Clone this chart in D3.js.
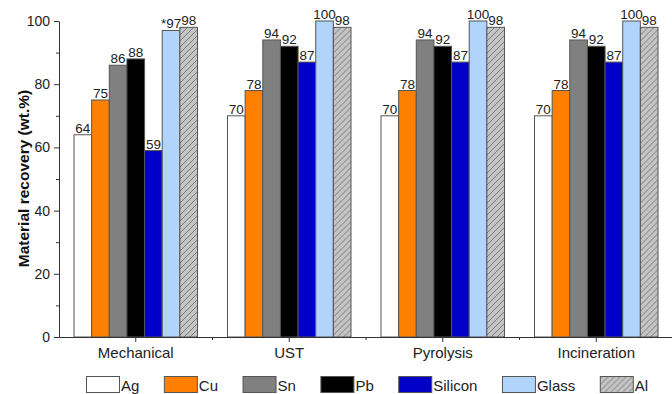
<!DOCTYPE html>
<html><head><meta charset="utf-8">
<script src="https://cdn.jsdelivr.net/npm/d3@7"></script>
<style>body{margin:0;background:#fff}svg{display:block;font-family:"Liberation Sans",Arial,sans-serif}</style>
</head><body><svg id="c" width="672" height="394"></svg>
<script>
const categories = ["Mechanical", "UST", "Pyrolysis", "Incineration"];
const materials = ["Ag", "Cu", "Sn", "Pb", "Silicon", "Glass", "Al"];
const Ag = [64, 70, 70, 70];
const Cu = [75, 78, 78, 78];
const Sn = [86, 94, 94, 94];
const Pb = [88, 92, 92, 92];
const Silicon = [59, 87, 87, 87];
const Glass = [97, 100, 100, 100];
const Al = [98, 98, 98, 98];
const valueLabels = {Glass: ["*97", "100", "100", "100"]};
const yTicks = [0, 20, 40, 60, 80, 100];
const yMinorTicks = [10, 30, 50, 70, 90];

(function(){
const series = {Ag, Cu, Sn, Pb, Silicon, Glass, Al};
const colors = {Ag:"#ffffff", Cu:"#ff8000", Sn:"#808080", Pb:"#000000", Silicon:"#0000c8", Glass:"#b0d4fb", Al:"url(#hatch)"};

const svg = d3.select("#c");
const defs = svg.append("defs");
const pat = defs.append("pattern").attr("id","hatch").attr("patternUnits","userSpaceOnUse")
  .attr("width",6).attr("height",6);
pat.append("rect").attr("width",6).attr("height",6).attr("fill","#c4c4c4");
pat.append("path").attr("d","M-1,1 l2,-2 M0,6 l6,-6 M5,7 l2,-2").attr("stroke","#6a6a6a").attr("stroke-width",0.8);

const mL = 59, mR = 673, mT = 21, mB = 337;
const x0 = d3.scaleBand().domain(categories).range([mL, mR]).paddingInner(0).paddingOuter(0);
const x1 = d3.scaleBand().domain(materials).range([0, x0.bandwidth()]).paddingOuter(0.85).paddingInner(0);
const y = d3.scaleLinear().domain([0, 100]).range([mB, mT]);

// bars
categories.forEach((cat, ci) => {
  const g = svg.append("g").attr("transform", `translate(${x0(cat)},0)`);
  materials.forEach(m => {
    const v = series[m][ci];
    g.append("rect").attr("x", x1(m)).attr("y", y(v)).attr("width", x1.bandwidth()).attr("height", y(0) - y(v))
      .attr("fill", colors[m]).attr("stroke", "#555").attr("stroke-width", 1);
    const lbl = valueLabels[m] ? valueLabels[m][ci] : String(v);
    g.append("text").attr("x", x1(m) + x1.bandwidth()/2).attr("y", y(v) - 2)
      .attr("text-anchor","middle").attr("font-size", 13.5).attr("fill","#222").text(lbl);
  });
});

// y axis
const yAxis = d3.axisLeft(y).tickValues(yTicks).tickSize(5).tickPadding(4).tickSizeOuter(0);
const ya = svg.append("g").attr("transform", `translate(${mL},0)`).call(yAxis);
ya.selectAll("text").attr("font-size", 14).attr("fill","#222").attr("font-family","Liberation Sans, Arial");
ya.select(".domain").attr("stroke","#333");
ya.selectAll(".tick line").attr("stroke","#333");
const yMinor = d3.axisLeft(y).tickValues(yMinorTicks).tickSize(3).tickFormat("");
const ym = svg.append("g").attr("transform", `translate(${mL},0)`).call(yMinor);
ym.select(".domain").remove();
ym.selectAll(".tick line").attr("stroke","#333");

// x axis
const xAxis = d3.axisBottom(x0).tickSize(5).tickPadding(4).tickSizeOuter(0);
const xa = svg.append("g").attr("transform", `translate(0,${mB})`).call(xAxis);
xa.selectAll("text").attr("font-size", 15).attr("fill","#222").attr("font-family","Liberation Sans, Arial").attr("dy","0.82em");
xa.select(".domain").attr("stroke","#333");
xa.selectAll(".tick line").attr("stroke","#333");
const xm = svg.append("g").attr("transform", `translate(0,${mB})`);
categories.slice(1).forEach(c => {
  xm.append("line").attr("x1", x0(c)).attr("x2", x0(c)).attr("y1", 0).attr("y2", 3).attr("stroke","#333");
});

// y title
svg.append("text").attr("transform", `translate(29,178.5) rotate(-90)`)
  .attr("text-anchor","middle").attr("font-size",15.5).attr("font-weight","bold").attr("fill","#111")
  .text("Material recovery (wt.%)");

// legend
const lg = svg.append("g").attr("transform","translate(86.5,376.5)");
let lx = 0;
materials.forEach(m => {
  lg.append("rect").attr("x", lx).attr("y", 0).attr("width", 33).attr("height", 16)
    .attr("fill", colors[m]).attr("stroke","#555").attr("stroke-width",1);
  const t = lg.append("text").attr("x", lx + 34.5).attr("y", 14.5).attr("font-size",15).attr("fill","#222").text(m);
  lx += 34.5 + t.node().getComputedTextLength() + 25;
});
})();
</script></body></html>
